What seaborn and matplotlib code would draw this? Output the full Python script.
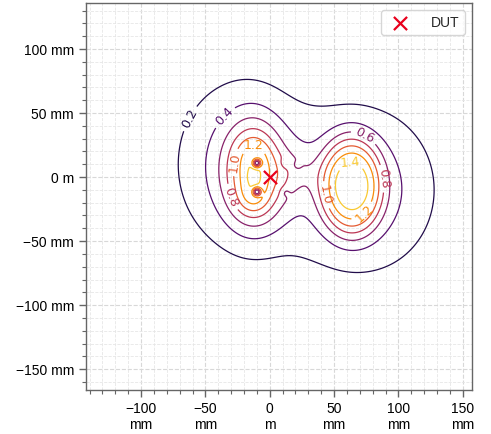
import numpy as np
import matplotlib
matplotlib.use("Agg")
import matplotlib.pyplot as plt
from matplotlib.ticker import EngFormatter, MultipleLocator
from matplotlib.colors import Normalize
import seaborn as sns

# Field sources: centre / half-widths in mm, amplitude in
# field units, radial shape exponent (2 = gaussian, higher = flatter top)
src_name = ["R core", "R base", "L core", "L base", "L upper", "L lower",
            "L tip", "neck", "hole up", "hole down", "dip 1", "dip 2", "dip 3"]
src_x_mm = [63.5, 71, -12.4, -25, -12, -13, -13, 18, -10, -10, 12, 21, 12]
src_y_mm = [-6.5, -10, 3, 10, 19, -17, 0, 3, 11, -11.5, 11, 9, -12]
src_amp = [1.02, 0.52, 0.9, 0.45, 0.1, 0.2, 0.06, 0.18,
           -1.0, -1.0, -0.16, -0.1, -0.12]
src_sx_mm = [19, 41, 15, 36, 9, 9, 3.5, 14, 2.2, 2.2, 2.5, 2.5, 2.5]
src_sy_mm = [30, 46, 27, 48, 9, 9, 3.5, 12, 2.2, 2.2, 2.5, 2.5, 2.5]
src_shape = [3, 2, 2, 2, 2, 2, 2, 2, 2, 2, 2, 2, 2]

levels = [0.2, 0.4, 0.6, 0.8, 1.0, 1.2, 1.4]

# where the contour labels sit (mm)
label_x_mm = [-58.3, -33.7, -12.4, -28.5, -31.1, 73, 90, 62.8, 43.3, 71.8]
label_y_mm = [43.7, 45.5, 22.9, 11.7, -16.2, 31.5, -1, 10.7, -14, -27]

dut_x = [0.0]
dut_y = [0.0]


def main():
    sns.set_theme(style="ticks")
    plt.rcParams["font.family"] = ["Liberation Sans", "DejaVu Sans"]
    plt.rcParams["axes.unicode_minus"] = True

    # build the field on a 1 mm grid (metres)
    gx = np.arange(-150, 161, 1.0) / 1000
    gy = np.arange(-170, 141, 1.0) / 1000
    X, Y = np.meshgrid(gx, gy)
    Z = np.zeros_like(X)
    for x0, y0, a, sx, sy, p in zip(src_x_mm, src_y_mm, src_amp,
                                    src_sx_mm, src_sy_mm, src_shape):
        r = np.hypot((X * 1000 - x0) / sx, (Y * 1000 - y0) / sy)
        Z += a * np.exp(-0.5 * r ** p)

    fig = plt.figure(figsize=(4.91, 4.34), dpi=100)
    ax = fig.add_axes([0.175, 0.101, 0.786, 0.892])

    cs = ax.contour(X, Y, Z, levels=levels, cmap="inferno",
                    norm=Normalize(0, 1.6), linewidths=0.9)
    pos = [(a / 1000, b / 1000) for a, b in zip(label_x_mm, label_y_mm)]
    txts = ax.clabel(cs, fmt="%.1f", fontsize=9, inline=True, manual=pos)
    for t in txts:
        t.set_fontfamily("DejaVu Sans")

    sns.scatterplot(x=dut_x, y=dut_y, ax=ax, marker="x", color="#e8001c",
                    s=90, linewidth=1.6, label="DUT", zorder=5)

    ax.set_xlim(-0.1428, 0.157)
    ax.set_ylim(-0.1664, 0.1359)

    ax.xaxis.set_major_formatter(EngFormatter(unit="m", sep="\n"))
    ax.yaxis.set_major_formatter(EngFormatter(unit="m"))
    for axis in (ax.xaxis, ax.yaxis):
        axis.set_major_locator(MultipleLocator(0.05))
        axis.set_minor_locator(MultipleLocator(0.01))

    ax.grid(which="major", color="#d8d8d8", linestyle="--", linewidth=0.8)
    ax.grid(which="minor", color="#e6e6e6", linestyle="--", linewidth=0.6)
    ax.set_axisbelow(True)

    for sp in ax.spines.values():
        sp.set_color("#666666")
        sp.set_linewidth(1.0)
    ax.tick_params(which="major", length=5, width=1, color="#666666",
                   labelsize=10, labelcolor="black")
    ax.tick_params(which="minor", length=3, width=0.8, color="#666666")

    leg = ax.legend(loc="upper right", fontsize=10, frameon=True,
                    fancybox=True, handletextpad=1.2)
    leg.get_frame().set_edgecolor("#cccccc")

    fig.savefig("out.png", dpi=100)
    plt.close(fig)


if __name__ == "__main__":
    main()
